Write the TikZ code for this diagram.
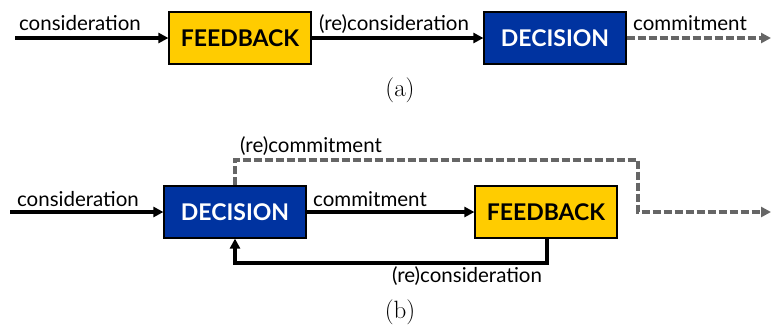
\documentclass[tikz,border=0pt]{standalone}
\usepackage{fontspec}
\newfontfamily\labfont{Lato}
\usetikzlibrary{arrows.meta}
\definecolor{fbyellow}{HTML}{FFCC00}
\definecolor{decblue}{HTML}{0033A0}
\definecolor{dgray}{HTML}{666666}
\tikzset{
  box/.style={draw=black, line width=1.2pt, minimum width=142pt, minimum height=52pt, inner sep=0pt, font=\labfont\bfseries\fontsize{23}{23}\selectfont},
  fbbox/.style={box, fill=fbyellow, text=black},
  decbox/.style={box, fill=decblue, text=white},
  flow/.style={line width=3.5pt, -{Triangle[length=10pt,width=10pt]}},
  dflow/.style={line width=3.5pt, dgray, dash pattern=on 8pt off 3pt, -{Triangle[length=10pt,width=10pt]}},
  lab/.style={font=\labfont\fontsize{20.5}{20.5}\selectfont, inner sep=0pt, anchor=base},
  subcap/.style={font=\fontsize{25}{25}\selectfont, inner sep=0pt}
}
\begin{document}
\begin{tikzpicture}[x=1pt,y=-1pt]
\useasboundingbox (0,0) rectangle (771,325);
% (a)
\node[fbbox] (fa) at (240,38) {FEEDBACK};
\node[decbox] (da) at (555,38) {DECISION};
\coordinate (sa) at (15,38);
\coordinate (ea) at (771,38);
\draw[flow] (sa) -- (fa.west);
\draw[flow] (fa.east) -- (da.west);
\draw[dflow] (da.east) -- (ea);
\node[lab] (l1) at (80,30) {consideration};
\node[lab] (l2) at (394,30) {(re)consideration};
\node[lab] (l3) at (690,30) {commitment};
\node[subcap] (ca) at (400,90) {(a)};
% (b)
\node[decbox] (db) at (235,212) {DECISION};
\node[fbbox] (fb) at (546,212) {FEEDBACK};
\coordinate (sb) at (10,212);
\coordinate (eb) at (771,212);
\draw[flow] (sb) -- (db.west);
\draw[flow] (db.east) -- (fb.west);
\draw[dflow] (db.north) |- (638,160) |- (eb);
\draw[flow] ([xshift=1pt]fb.south) |- (235,263) -- (db.south);
\node[lab] (l4) at (78,206) {consideration};
\node[lab] (l5) at (370,206) {commitment};
\node[lab] (l6) at (311,152) {(re)commitment};
\node[lab] (l7) at (467,282) {(re)consideration};
\node[subcap] (cb) at (400,312) {(b)};
\end{tikzpicture}
\end{document}
